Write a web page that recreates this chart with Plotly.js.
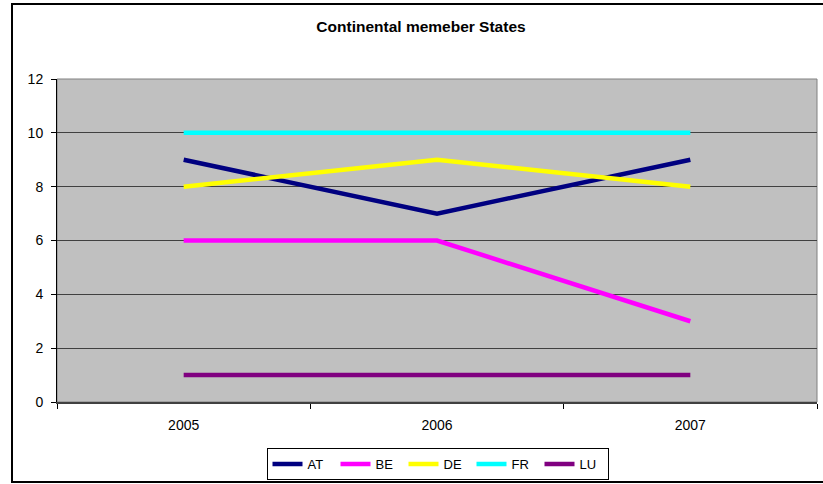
<!DOCTYPE html>
<html>
<head>
<meta charset="utf-8">
<script src="https://cdn.plot.ly/plotly-3.0.1.min.js"></script>
<style>
html,body{margin:0;padding:0;background:#fff;}
#chart{width:823px;height:484px;}
</style>
</head>
<body>
<div id="chart"></div>
<script>
var years = ["2005", "2006", "2007"];
var seriesNames = ["AT", "BE", "DE", "FR", "LU"];
var AT = [9, 7, 9];
var BE = [6, 6, 3];
var DE = [8, 9, 8];
var FR = [10, 10, 10];
var LU = [1, 1, 1];
var yTicks = [0, 2, 4, 6, 8, 10, 12];

var values = [AT, BE, DE, FR, LU];
var colors = ["#000080", "#FF00FF", "#FFFF00", "#00FFFF", "#800080"];

var traces = values.map(function (v, i) {
  return {
    type: "scatter",
    mode: "lines",
    x: years,
    y: v,
    name: seriesNames[i],
    line: {color: colors[i], width: 4.5, shape: "linear"},
    hoverinfo: "x+y+name"
  };
});

var L = 57, R = 817, T = 79, B = 402, W = 823, H = 484;
function px(x) { return (x - L) / (R - L); }
function py(y) { return (B - y) / (B - T); }

var layout = {
  width: W,
  height: H,
  margin: {l: L, r: W - R, t: T, b: H - B, pad: 0, autoexpand: false},
  paper_bgcolor: "#FFFFFF",
  plot_bgcolor: "#C0C0C0",
  showlegend: true,
  font: {family: "Liberation Sans, Arial, sans-serif", size: 13, color: "#000"},
  title: {
    text: "<b>Continental memeber States</b>",
    font: {family: "Liberation Sans, Arial, sans-serif", size: 15.5, color: "#000"},
    x: 421 / W, xref: "container", xanchor: "center",
    y: 1 - 27 / H, yref: "container", yanchor: "middle"
  },
  xaxis: {
    type: "category",
    range: [-0.5, 2.5],
    showgrid: false,
    zeroline: false,
    showline: true,
    linecolor: "#404040",
    linewidth: 2,
    ticks: "outside",
    tickson: "boundaries",
    ticklen: 5,
    tickcolor: "#000",
    tickwidth: 1,
    ticklabelstandoff: 9,
    tickfont: {size: 14, color: "#000"},
    automargin: false,
    fixedrange: true
  },
  yaxis: {
    range: [0, 12],
    tickvals: yTicks,
    ticktext: yTicks.map(String),
    showgrid: true,
    gridcolor: "#404040",
    gridwidth: 1,
    zeroline: false,
    showline: true,
    linecolor: "#000",
    linewidth: 1,
    ticks: "outside",
    ticklen: 5,
    tickcolor: "#000",
    ticklabelstandoff: 5,
    tickfont: {size: 14, color: "#000"},
    automargin: false,
    fixedrange: true
  },
  legend: {
    orientation: "h",
    x: px(437.5), xanchor: "center",
    y: py(464), yanchor: "middle",
    bgcolor: "#FFFFFF",
    bordercolor: "#000",
    borderwidth: 1,
    font: {size: 13, color: "#000"},
    itemwidth: 30,
    entrywidth: 23,
    entrywidthmode: "pixels",
    tracegroupgap: 0,
    traceorder: "normal"
  },
  shapes: [
    {type: "rect", xref: "paper", yref: "paper",
     x0: 0, x1: 1, y0: 0, y1: 1,
     line: {color: "#808080", width: 1}, fillcolor: "rgba(0,0,0,0)", layer: "below"},
    {type: "rect", xref: "paper", yref: "paper",
     x0: px(12), x1: px(830), y0: py(482), y1: py(4),
     line: {color: "#000", width: 2}, fillcolor: "rgba(0,0,0,0)"}
  ]
};

Plotly.newPlot("chart", traces, layout, {displayModeBar: false, staticPlot: true});
</script>
</body>
</html>
